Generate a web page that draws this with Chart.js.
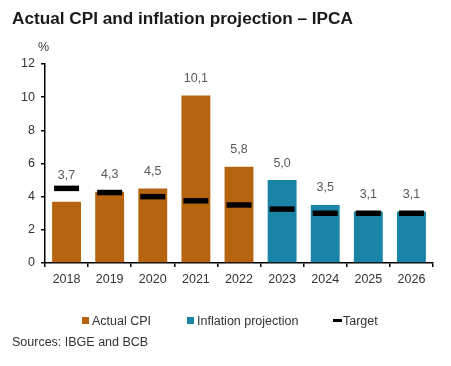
<!DOCTYPE html>
<html lang="en">
<head>
  <meta charset="UTF-8" />
  <title>Actual CPI and inflation projection – IPCA</title>
  <script src="https://cdn.jsdelivr.net/npm/chart.js"></script>
  <style>
    body {
      margin: 0;
      font-family: "Liberation Sans", Arial, sans-serif;
      background: #fff;
    }
    .wrap {
      position: relative;
      width: 451px;
      height: 366px;
      overflow: hidden;
    }
    canvas {
      position: absolute;
      left: 0;
      top: 0;
    }
    .title {
      position: absolute;
      left: 12px;
      top: 8px;
      font-size: 17.2px;
      font-weight: bold;
      color: #1a1a1a;
      white-space: nowrap;
    }
    .unit {
      position: absolute;
      left: 38px;
      top: 40px;
      font-size: 12.5px;
      color: #333;
    }
    .legend {
      position: absolute;
      top: 314px;
      left: 82px;
      font-size: 12.5px;
      color: #333;
      white-space: nowrap;
    }
    .legend span.item {
      position: absolute;
      top: 0;
    }
    .legend i {
      display: inline-block;
      width: 7px;
      height: 7px;
      margin-right: 3px;
      vertical-align: 1px;
    }
    .legend i.dash {
      width: 9px;
      height: 3px;
      vertical-align: 3px;
      margin-right: 1px;
      background: #000;
    }
    .source {
      position: absolute;
      left: 12px;
      top: 335px;
      font-size: 12.5px;
      color: #333;
      white-space: nowrap;
    }
  </style>
</head>
<body>
  <div class="wrap">
    <canvas id="chart" width="451" height="366"></canvas>
    <div class="title">Actual CPI and inflation projection – IPCA</div>
    <div class="unit">%</div>
    <div class="legend">
      <span class="item" style="left:0"><i style="background:#B6640F"></i>Actual CPI</span>
      <span class="item" style="left:105px"><i style="background:#1A84A6"></i>Inflation projection</span>
      <span class="item" style="left:251px"><i class="dash"></i>Target</span>
    </div>
    <div class="source">Sources: IBGE and BCB</div>
  </div>

  <script>
    const years = ['2018', '2019', '2020', '2021', '2022', '2023', '2024', '2025', '2026'];
    const cpi = [3.7, 4.3, 4.5, 10.1, 5.8, 5.0, 3.5, 3.1, 3.1];
    const target = [4.5, 4.25, 4.0, 3.75, 3.5, 3.25, 3.0, 3.0, 3.0];
    const isProjection = [false, false, false, false, false, true, true, true, true];
    const yTicks = [0, 2, 4, 6, 8, 10, 12];

    const orange = '#B6640F';
    const blue = '#1A84A6';

    Chart.defaults.font.family = '"Liberation Sans", Arial, sans-serif';
    Chart.defaults.font.size = 12.5;
    Chart.defaults.color = '#333';

    // valori sopra le barre, con la virgola come separatore decimale
    const valueLabels = {
      id: 'valueLabels',
      afterDatasetsDraw(chart) {
        const ctx = chart.ctx;
        const yScale = chart.scales.y;
        const bars = chart.getDatasetMeta(1).data;
        ctx.save();
        ctx.font = '12.5px "Liberation Sans", Arial, sans-serif';
        ctx.fillStyle = '#595959';
        ctx.textAlign = 'center';
        ctx.textBaseline = 'middle';
        bars.forEach((bar, i) => {
          const y = Math.min(bar.y - 17, yScale.getPixelForValue(target[i]) - 13);
          ctx.fillText(cpi[i].toFixed(1).replace('.', ','), bar.x, y);
        });
        ctx.restore();
      }
    };

    new Chart(document.getElementById('chart'), {
      data: {
        labels: years,
        datasets: [
          {
            type: 'line',
            label: 'Target',
            data: target,
            showLine: false,
            pointStyle: 'line',
            pointRadius: 12.5,
            pointHoverRadius: 12.5,
            borderColor: '#000',
            borderWidth: 5.5,
            order: 0
          },
          {
            type: 'bar',
            label: 'CPI',
            data: cpi,
            backgroundColor: isProjection.map(p => p ? blue : orange),
            categoryPercentage: 1,
            barPercentage: 0.67,
            order: 1
          }
        ]
      },
      options: {
        responsive: false,
        animation: false,
        layout: { padding: { left: 0, right: 16, top: 64, bottom: 78 } },
        plugins: {
          legend: { display: false },
          tooltip: { enabled: false }
        },
        scales: {
          x: {
            offset: true,
            grid: {
              offset: true,
              drawOnChartArea: false,
              tickLength: 4,
              color: '#000',
              lineWidth: 1.5
            },
            border: { color: '#000', width: 1.5 },
            ticks: { padding: 5, color: '#333' },
            afterFit(scale) { scale.height = 25; }
          },
          y: {
            min: 0,
            max: 12,
            afterBuildTicks(scale) { scale.ticks = yTicks.map(v => ({ value: v })); },
            grid: {
              drawOnChartArea: false,
              tickLength: 4,
              color: '#000',
              lineWidth: 1.5
            },
            border: { color: '#000', width: 1.5 },
            ticks: { padding: 6, color: '#333' },
            afterFit(scale) { scale.width = 45; }
          }
        }
      },
      plugins: [valueLabels]
    });
  </script>
</body>
</html>
